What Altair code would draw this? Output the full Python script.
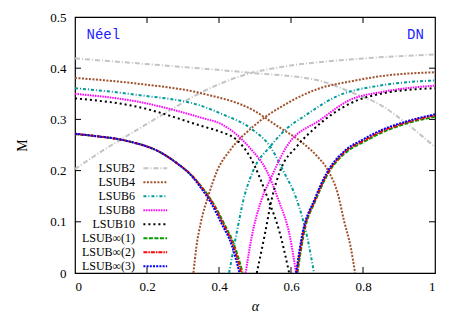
import altair as alt
import pandas as pd

# ---------------- data ----------------
series_names = ["LSUB2", "LSUB4", "LSUB6", "LSUB8", "LSUB10",
                "LSUB∞(1)", "LSUB∞(2)", "LSUB∞(3)"]

# Néel branch (decreasing) and DN branch (increasing) for each series
lsub2_neel_a = [0, 0.236, 0.486, 0.671, 0.764, 0.856, 0.921, 1.0]
lsub2_neel_m = [0.419, 0.406, 0.391, 0.377, 0.354, 0.325, 0.292, 0.246]
lsub2_dn_a = [0, 0.079, 0.171, 0.264, 0.357, 0.486, 0.578, 0.764, 1.0]
lsub2_dn_m = [0.203, 0.240, 0.279, 0.318, 0.355, 0.390, 0.403, 0.417, 0.427]

lsub4_neel_a = [0, 0.171, 0.357, 0.495, 0.56, 0.634, 0.67, 0.703, 0.73, 0.748, 0.766, 0.778]
lsub4_neel_m = [0.381, 0.370, 0.350, 0.318, 0.288, 0.253, 0.23, 0.2, 0.155, 0.1, 0.05, 0]
lsub4_dn_a = [0.329, 0.337, 0.35, 0.37, 0.395, 0.431, 0.495, 0.588, 0.681, 0.764, 0.856, 1.0]
lsub4_dn_m = [0, 0.05, 0.1, 0.15, 0.2, 0.24, 0.286, 0.331, 0.361, 0.374, 0.385, 0.392]

lsub6_neel_a = [0, 0.171, 0.357, 0.403, 0.495, 0.542, 0.578, 0.616, 0.645, 0.664]
lsub6_neel_m = [0.361, 0.348, 0.325, 0.312, 0.279, 0.247, 0.2, 0.143, 0.07, 0]
lsub6_dn_a = [0.428, 0.449, 0.468, 0.495, 0.542, 0.593, 0.634, 0.727, 0.856, 1.0]
lsub6_dn_m = [0, 0.078, 0.143, 0.2, 0.247, 0.285, 0.305, 0.345, 0.367, 0.376]

lsub8_neel_a = [0, 0.171, 0.357, 0.403, 0.486, 0.532, 0.565, 0.597, 0.614]
lsub8_neel_m = [0.350, 0.335, 0.302, 0.292, 0.244, 0.2, 0.143, 0.071, 0]
lsub8_dn_a = [0.474, 0.491, 0.518, 0.542, 0.588, 0.681, 0.764, 0.856, 1.0]
lsub8_dn_m = [0, 0.071, 0.143, 0.182, 0.247, 0.299, 0.338, 0.354, 0.366]

lsub10_neel_a = [0, 0.171, 0.357, 0.403, 0.449, 0.486, 0.537, 0.569, 0.595]
lsub10_neel_m = [0.341, 0.325, 0.286, 0.276, 0.26, 0.227, 0.143, 0.078, 0]
lsub10_dn_a = [0.505, 0.528, 0.546, 0.57, 0.616, 0.671, 0.764, 0.856, 1.0]
lsub10_dn_m = [0, 0.078, 0.143, 0.2, 0.247, 0.286, 0.331, 0.351, 0.361]

inf1_neel_a = [0, 0.05, 0.144, 0.236, 0.282, 0.329, 0.358, 0.386, 0.413, 0.443, 0.466]
inf1_neel_m = [0.271, 0.268, 0.258, 0.236, 0.215, 0.187, 0.163, 0.134, 0.098, 0.053, 0]
inf1_dn_a = [0.618, 0.636, 0.669, 0.702, 0.757, 0.802, 0.858, 0.92, 1.0]
inf1_dn_m = [0, 0.078, 0.143, 0.193, 0.238, 0.256, 0.276, 0.292, 0.305]

inf2_neel_a = [0, 0.05, 0.144, 0.236, 0.282, 0.329, 0.356, 0.384, 0.41, 0.44, 0.462]
inf2_neel_m = [0.272, 0.268, 0.258, 0.236, 0.215, 0.187, 0.163, 0.134, 0.098, 0.053, 0]
inf2_dn_a = [0.616, 0.634, 0.667, 0.7, 0.755, 0.8, 0.856, 0.92, 1.0]
inf2_dn_m = [0, 0.078, 0.143, 0.193, 0.24, 0.258, 0.278, 0.294, 0.308]

inf3_neel_a = [0, 0.05, 0.144, 0.236, 0.282, 0.327, 0.353, 0.38, 0.406, 0.436, 0.457]
inf3_neel_m = [0.272, 0.268, 0.258, 0.236, 0.215, 0.187, 0.163, 0.134, 0.098, 0.053, 0]
inf3_dn_a = [0.614, 0.632, 0.665, 0.698, 0.753, 0.798, 0.854, 0.92, 1.0]
inf3_dn_m = [0, 0.078, 0.143, 0.194, 0.241, 0.26, 0.28, 0.296, 0.31]

branches = {
    "LSUB2": [(lsub2_neel_a, lsub2_neel_m), (lsub2_dn_a, lsub2_dn_m)],
    "LSUB4": [(lsub4_neel_a, lsub4_neel_m), (lsub4_dn_a, lsub4_dn_m)],
    "LSUB6": [(lsub6_neel_a, lsub6_neel_m), (lsub6_dn_a, lsub6_dn_m)],
    "LSUB8": [(lsub8_neel_a, lsub8_neel_m), (lsub8_dn_a, lsub8_dn_m)],
    "LSUB10": [(lsub10_neel_a, lsub10_neel_m), (lsub10_dn_a, lsub10_dn_m)],
    "LSUB∞(1)": [(inf1_neel_a, inf1_neel_m), (inf1_dn_a, inf1_dn_m)],
    "LSUB∞(2)": [(inf2_neel_a, inf2_neel_m), (inf2_dn_a, inf2_dn_m)],
    "LSUB∞(3)": [(inf3_neel_a, inf3_neel_m), (inf3_dn_a, inf3_dn_m)],
}

x_ticks = [0, 0.2, 0.4, 0.6, 0.8, 1.0]
y_ticks = [0, 0.1, 0.2, 0.3, 0.4, 0.5]
phase_labels = ["Néel", "DN"]

# ---------------- styles ----------------
colors = ["#c4c4c4", "#a0522d", "#009b9b", "#ff00ff", "#000000",
          "#009a00", "#ff0000", "#0000ff"]
dashes = [[5, 2, 1, 2], [2, 1.5], [3, 2, 1, 2], [1.5, 1], [2, 3],
          [4, 1.5], [4, 1, 1.5, 1], [2, 1.2]]
SERIF = "Liberation Serif"

W, H = 360, 256
xs = alt.Scale(domain=[0, 1], nice=False, zero=False)
ys = alt.Scale(domain=[0, 0.5], nice=False, zero=False)

layers = []
for i, name in enumerate(series_names):
    for b, (a_list, m_list) in enumerate(branches[name]):
        d = pd.DataFrame({"alpha": a_list, "M": m_list})
        layers.append(
            alt.Chart(d).mark_line(
                color=colors[i], strokeDash=dashes[i], strokeWidth=2,
                interpolate="monotone", clip=True
            ).encode(
                x=alt.X("alpha:Q", scale=xs),
                y=alt.Y("M:Q", scale=ys),
            )
        )

# legend (gnuplot style: label right-aligned, sample to the right)
leg = pd.DataFrame({
    "label": series_names,
    "idx": list(range(len(series_names))),
})
leg["ly"] = 0.2045 - leg["idx"] * 0.02734
leg["tx"] = 0.167
leg["lx"] = 0.19
leg["lx2"] = 0.256

for i, name in enumerate(series_names):
    d = leg[leg["idx"] == i]
    layers.append(
        alt.Chart(d).mark_rule(color=colors[i], strokeDash=dashes[i], strokeWidth=2).encode(
            x=alt.X("lx:Q", scale=xs), x2="lx2:Q", y=alt.Y("ly:Q", scale=ys)
        )
    )
layers.append(
    alt.Chart(leg).mark_text(align="right", baseline="middle", font=SERIF,
                             fontSize=12, color="black").encode(
        x=alt.X("tx:Q", scale=xs), y=alt.Y("ly:Q", scale=ys), text="label:N"
    )
)

# phase labels
ph = pd.DataFrame({"label": phase_labels, "px": [0.032, 0.969], "py": [0.457, 0.457],
                   "al": ["left", "right"]})
layers.append(
    alt.Chart(ph[ph["al"] == "left"]).mark_text(align="left", baseline="alphabetic",
                                                font="Liberation Mono", fontSize=14, color="#2020ff").encode(
        x=alt.X("px:Q", scale=xs), y=alt.Y("py:Q", scale=ys), text="label:N"
    )
)
layers.append(
    alt.Chart(ph[ph["al"] == "right"]).mark_text(align="right", baseline="alphabetic",
                                                 font="Liberation Mono", fontSize=14, color="#2020ff").encode(
        x=alt.X("px:Q", scale=xs), y=alt.Y("py:Q", scale=ys), text="label:N"
    )
)

# inward ticks (gnuplot style)
xt = pd.DataFrame({"t": x_ticks[1:-1]})
yt = pd.DataFrame({"t": y_ticks[1:-1]})
tick_len = 6
layers.append(alt.Chart(xt).mark_rule(color="black").encode(
    x=alt.X("t:Q", scale=xs), y=alt.value(H), y2=alt.value(H - tick_len)))
layers.append(alt.Chart(xt).mark_rule(color="black").encode(
    x=alt.X("t:Q", scale=xs), y=alt.value(0), y2=alt.value(tick_len)))
layers.append(alt.Chart(yt).mark_rule(color="black").encode(
    y=alt.Y("t:Q", scale=ys), x=alt.value(0), x2=alt.value(tick_len)))
layers.append(alt.Chart(yt).mark_rule(color="black").encode(
    y=alt.Y("t:Q", scale=ys), x=alt.value(W), x2=alt.value(W - tick_len)))

# axes carrier layer
axes_df = pd.DataFrame({"alpha": [0, 1], "M": [0, 0.5]})
layers.insert(0, alt.Chart(axes_df).mark_point(opacity=0).encode(
    x=alt.X("alpha:Q", scale=xs,
            axis=alt.Axis(values=x_ticks, format=".1~f", title="α", titleFontStyle="italic",
                          labelPadding=7, titlePadding=6,
                          labelFont=SERIF, labelFontSize=13, titleFont=SERIF,
                          titleFontSize=14, titleFontWeight="normal",
                          labelColor="black", titleColor="black",
                          domain=False, ticks=False, grid=False)),
    y=alt.Y("M:Q", scale=ys,
            axis=alt.Axis(values=y_ticks, format=".1~f", title="M", labelPadding=9,
                          titlePadding=20,
                          labelFont=SERIF, labelFontSize=13, titleFont=SERIF,
                          titleFontSize=14, titleFontWeight="normal",
                          labelColor="black", titleColor="black",
                          domain=False, ticks=False, grid=False)),
))

chart = alt.layer(*layers).properties(
    width=W, height=H,
    padding={"left": 67, "top": 9, "right": 20, "bottom": 43},
    autosize=alt.AutoSizeParams(type="none"),
).configure_view(stroke="black", strokeWidth=1.2).configure_axis(
    labelFont=SERIF, titleFont=SERIF
)

chart.save("out.html", embed_options={"renderer": "svg", "actions": False})
